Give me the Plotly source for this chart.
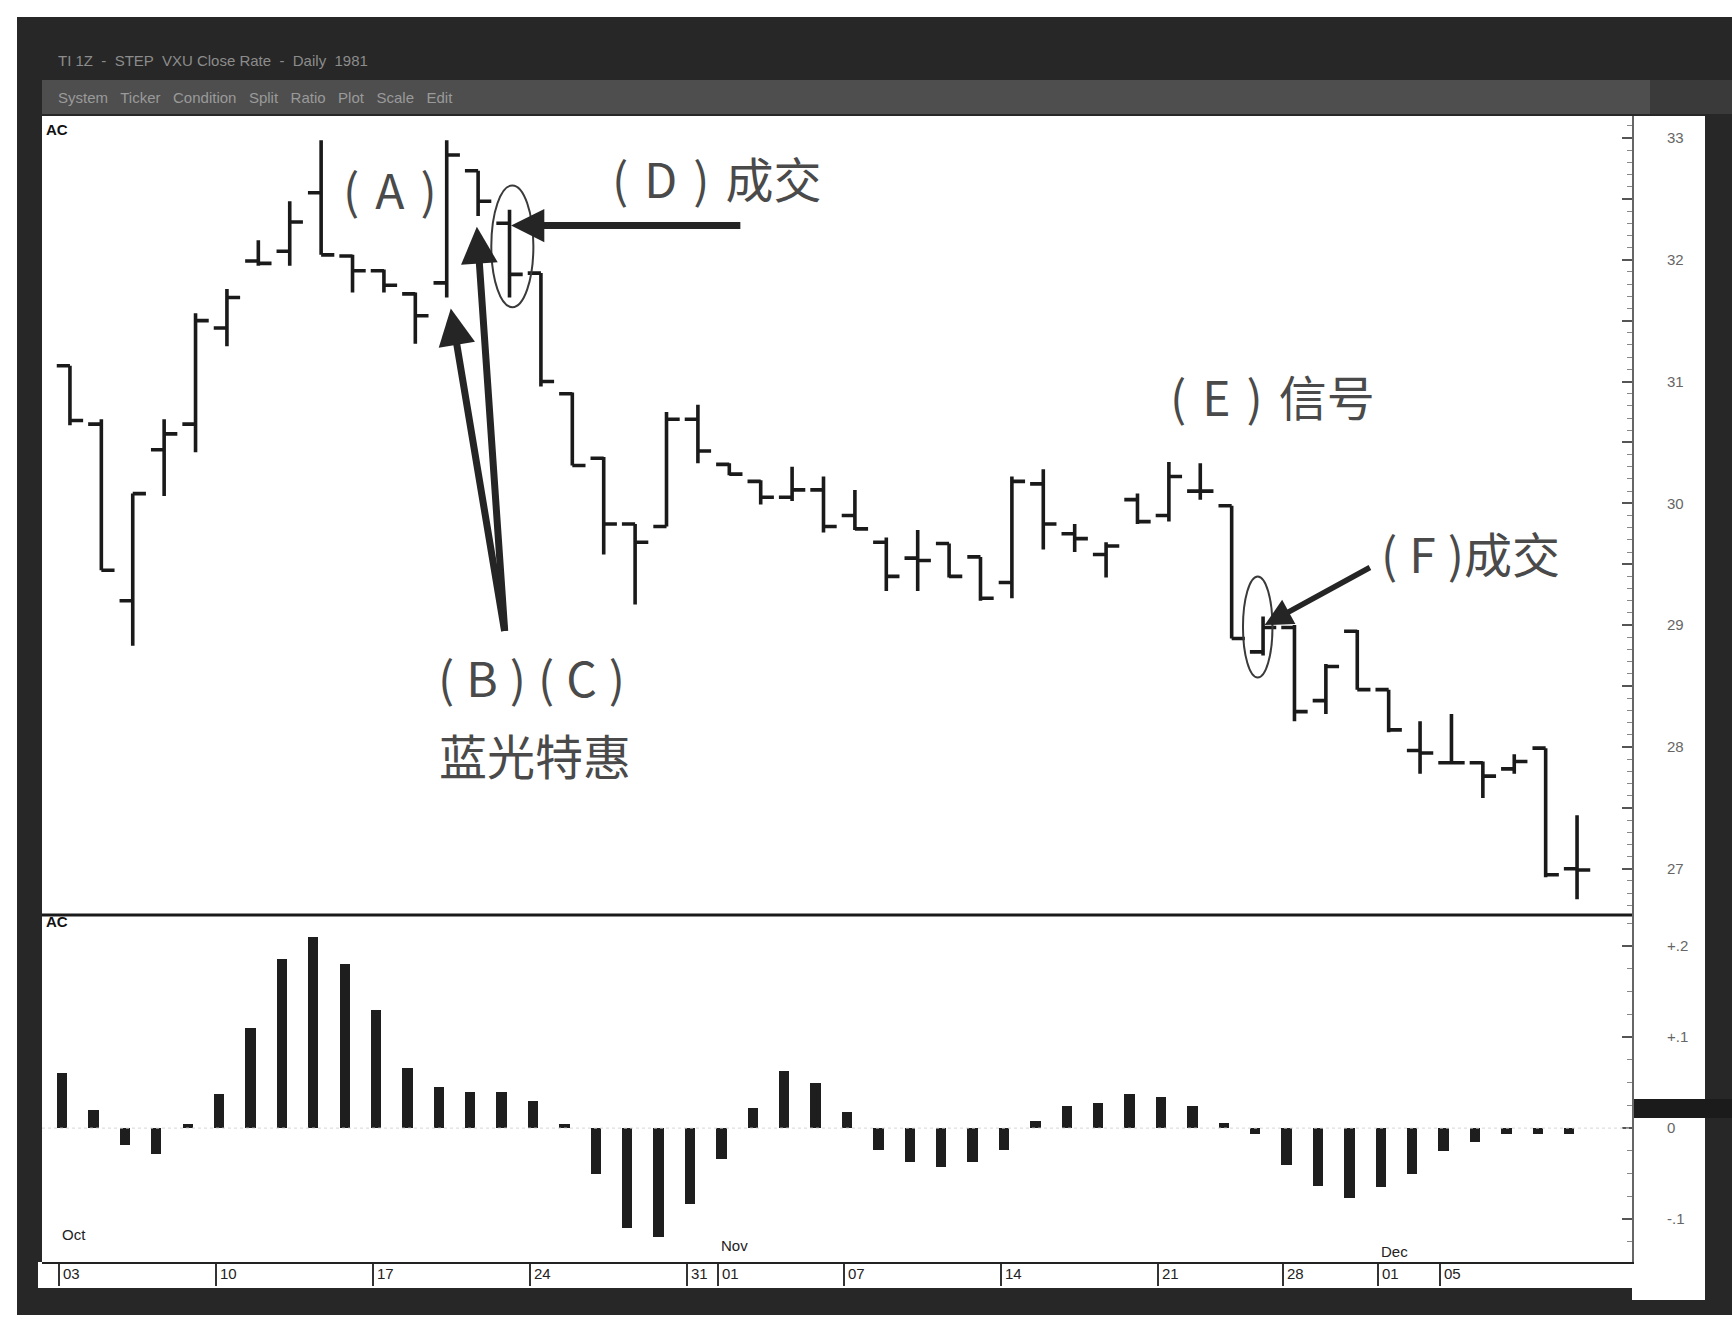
import plotly.graph_objects as go

# ---------------- data ----------------
dates = [
    "2005-10-03", "2005-10-04", "2005-10-05", "2005-10-06", "2005-10-07",
    "2005-10-10", "2005-10-11", "2005-10-12", "2005-10-13", "2005-10-14",
    "2005-10-17", "2005-10-18", "2005-10-19", "2005-10-20", "2005-10-21",
    "2005-10-24", "2005-10-25", "2005-10-26", "2005-10-27", "2005-10-28",
    "2005-10-31", "2005-11-01", "2005-11-02", "2005-11-03", "2005-11-04",
    "2005-11-07", "2005-11-08", "2005-11-09", "2005-11-10", "2005-11-11",
    "2005-11-14", "2005-11-15", "2005-11-16", "2005-11-17", "2005-11-18",
    "2005-11-21", "2005-11-22", "2005-11-23", "2005-11-25", "2005-11-28",
    "2005-11-29", "2005-11-30", "2005-12-01", "2005-12-02", "2005-12-05",
    "2005-12-06", "2005-12-07", "2005-12-08", "2005-12-09",
]
open_ = [31.13, 30.65, 29.20, 30.44, 30.65, 31.44, 31.99, 32.07, 32.55, 32.03,
         31.91, 31.72, 31.81, 32.73, 32.30, 31.89, 30.90, 30.37, 29.83, 29.81,
         30.69, 30.32, 30.18, 30.05, 30.11, 29.90, 29.68, 29.55, 29.67, 29.56,
         29.35, 30.16, 29.75, 29.58, 30.03, 29.90, 30.10, 29.98, 28.78, 28.98,
         28.38, 28.95, 28.47, 27.97, 27.87, 27.87, 27.82, 27.99, 27.00]
high = [31.13, 30.69, 30.08, 30.69, 31.56, 31.76, 32.16, 32.48, 32.98, 32.04,
        31.92, 31.73, 32.98, 32.73, 32.41, 31.89, 30.91, 30.38, 29.83, 30.75,
        30.81, 30.33, 30.19, 30.30, 30.22, 30.11, 29.72, 29.78, 29.67, 29.56,
        30.22, 30.28, 29.83, 29.68, 30.08, 30.34, 30.33, 29.98, 29.07, 29.00,
        28.68, 28.96, 28.47, 28.21, 28.27, 27.88, 27.94, 27.99, 27.44]
low = [30.64, 29.45, 28.83, 30.06, 30.42, 31.29, 31.95, 31.95, 32.04, 31.73,
       31.73, 31.31, 31.69, 32.36, 31.69, 30.96, 30.31, 29.58, 29.17, 29.81,
       30.33, 30.23, 29.99, 30.02, 29.76, 29.78, 29.28, 29.28, 29.39, 29.20,
       29.22, 29.62, 29.60, 29.39, 29.83, 29.85, 30.03, 28.89, 28.75, 28.21,
       28.27, 28.47, 28.12, 27.78, 27.86, 27.58, 27.78, 26.93, 26.75]
close = [30.68, 29.45, 30.08, 30.57, 31.50, 31.69, 31.97, 32.31, 32.04, 31.91,
         31.79, 31.54, 32.86, 32.48, 31.88, 31.00, 30.31, 29.83, 29.68, 30.69,
         30.43, 30.24, 30.05, 30.11, 29.81, 29.79, 29.40, 29.53, 29.40, 29.22,
         30.18, 29.83, 29.71, 29.65, 29.85, 30.22, 30.10, 28.89, 28.98, 28.29,
         28.66, 28.47, 28.14, 27.95, 27.87, 27.76, 27.88, 26.95, 26.99]
ac = [0.061, 0.020, -0.018, -0.028, 0.005, 0.038, 0.110, 0.186, 0.210, 0.180,
      0.130, 0.066, 0.045, 0.040, 0.040, 0.030, 0.005, -0.050, -0.110, -0.120,
      -0.083, -0.034, 0.022, 0.063, 0.049, 0.018, -0.024, -0.037, -0.043, -0.037,
      -0.024, 0.008, 0.024, 0.028, 0.037, 0.034, 0.024, 0.006, -0.007, -0.040,
      -0.063, -0.077, -0.065, -0.050, -0.025, -0.015, -0.007, -0.007, -0.007]

tick_dates = ["2005-10-03", "2005-10-10", "2005-10-17", "2005-10-24", "2005-10-31",
              "2005-11-01", "2005-11-07", "2005-11-14", "2005-11-21", "2005-11-28",
              "2005-12-01", "2005-12-05"]
tick_text = ["03", "10", "17", "24", "31", "01", "07", "14", "21", "28", "01", "05"]
month_dates = ["2005-10-03", "2005-11-01", "2005-12-01"]
month_text = ["Oct", "Nov", "Dec"]

price_ticks = [27, 28, 29, 30, 31, 32, 33]
ac_ticks = [-0.1, 0.0, 0.1, 0.2]
ac_tick_text = ["-.1", "0", "+.1", "+.2"]

# ---------------- geometry helpers ----------------
W, H = 1732, 1329
L, R, T, B = 42, 100, 116, 67
PW, PH = W - L - R, H - T - B


def px(fx):
    return (fx - L) / PW


def py(fy):
    return (H - B - fy) / PH


split = py(915)
idx = list(range(len(dates)))
pos = {d: i for i, d in enumerate(dates)}
tick_off = -0.35
ac_off = -0.25

fig = go.Figure()

fig.add_trace(go.Ohlc(
    x=idx, open=open_, high=high, low=low, close=close,
    increasing_line_color="#1a1a1a", decreasing_line_color="#1a1a1a",
    line_width=3.6, tickwidth=0.42, xaxis="x", yaxis="y", showlegend=False,
))
fig.add_trace(go.Bar(
    x=[i + ac_off for i in idx], y=ac, width=0.33,
    marker_color="#1e1e1e", marker_line_width=0,
    xaxis="x2", yaxis="y2", showlegend=False,
))

xr = [-0.89, 49.75]
half_ticks = [v / 2 for v in range(54, 67)]
fig.update_layout(
    width=W, height=H,
    margin=dict(l=L, r=R, t=T, b=B),
    paper_bgcolor="white", plot_bgcolor="white",
    bargap=0,
    xaxis=dict(domain=[0, 1], range=xr, anchor="y", showticklabels=False,
               showgrid=False, zeroline=False, rangeslider=dict(visible=False),
               ticks=""),
    xaxis2=dict(domain=[0, 1], range=xr, anchor="y2", matches="x",
                showgrid=False, zeroline=False, showline=True,
                linecolor="#222", linewidth=2,
                tickvals=[pos[d] + tick_off for d in tick_dates],
                showticklabels=False, ticks="outside", ticklen=22,
                tickwidth=2, tickcolor="#333"),
    yaxis=dict(domain=[split, 1], range=[26.62, 33.18], side="right",
               anchor="x", showgrid=False, zeroline=False,
               showline=True, linecolor="#666", linewidth=2,
               tickvals=half_ticks,
               ticktext=[str(int(v)) if v in price_ticks else "" for v in half_ticks],
               ticks="inside", ticklen=10, tickwidth=2, tickcolor="#555",
               minor=dict(dtick=0.1, ticks="inside", ticklen=5,
                          tickcolor="#888", tickwidth=1),
               ticklabelstandoff=30,
               tickfont=dict(family="Liberation Sans", size=15, color="#666")),
    yaxis2=dict(domain=[0, split], range=[-0.147, 0.234], side="right",
                anchor="x2", showgrid=False, zeroline=False,
                showline=True, linecolor="#666", linewidth=2,
                tickvals=ac_ticks, ticktext=ac_tick_text,
                ticks="inside", ticklen=10, tickwidth=2, tickcolor="#555",
                minor=dict(dtick=0.025, ticks="inside", ticklen=5,
                           tickcolor="#888", tickwidth=1),
                ticklabelstandoff=30,
                tickfont=dict(family="Liberation Sans", size=15, color="#666")),
)

# ---------------- frame (scanned screen look) ----------------
shapes = []


def rect(x0, y0, x1, y1, color):
    shapes.append(dict(type="rect", xref="paper", yref="paper",
                       x0=px(x0), x1=px(x1), y0=py(y1), y1=py(y0),
                       fillcolor=color, line_width=0, layer="below"))


rect(17, 17, 1732, 1315, "#272727")
rect(42, 80, 1650, 114, "#4e4e4e")
rect(1650, 80, 1732, 114, "#3a3a3a")
rect(42, 116, 1632, 1262, "white")
rect(1632, 116, 1705, 1300, "white")
rect(38, 1262, 1705, 1288, "white")
rect(1632, 1099, 1732, 1118, "#1b1b1b")
shapes.append(dict(type="line", xref="paper", yref="paper",
                   x0=0, x1=1, y0=split, y1=split,
                   line=dict(color="#1a1a1a", width=3)))
shapes.append(dict(type="line", xref="paper", yref="y2",
                   x0=0, x1=1, y0=0, y1=0,
                   line=dict(color="#d6d6d6", width=1, dash="dot")))
# ellipses around the fills
shapes.append(dict(type="circle", xref="x", yref="y",
                   x0=13.42, x1=14.76, y0=31.61, y1=32.61,
                   line=dict(color="#3a3a3a", width=2)))
shapes.append(dict(type="circle", xref="x", yref="y",
                   x0=37.36, x1=38.30, y0=28.57, y1=29.40,
                   line=dict(color="#3a3a3a", width=2)))
fig.update_layout(shapes=shapes)

# ---------------- text ----------------
ann = []
cjk = "Noto Sans CJK SC"
label_font = dict(family=cjk, size=48, color="#4a4a4a")
S3 = "\u2004"   # 1/3 em space
S4 = "\u2005"   # 1/4 em space


def note(text, x, y):
    ann.append(dict(text=text, x=x, y=y, xref="x", yref="y", showarrow=False,
                    font=label_font, xanchor="center", yanchor="middle"))


note(f"({S3}A{S3})", 10.2, 32.59)
note(f"({S3}D{S3}){S3}成交", 20.6, 32.68)
note(f"({S4}B{S4}){S4}({S4}C{S4})", 14.7, 28.58)
note("蓝光特惠", 14.8, 27.94)
note(f"({S3}E{S3}){S3}信号", 38.3, 30.89)
note(f"({S4}F{S4})成交", 44.6, 29.60)


def arrow(hx, hy, tx, ty, w, size=1.0):
    ann.append(dict(text="", x=hx, y=hy, ax=tx, ay=ty, xref="x", yref="y",
                    axref="x", ayref="y", showarrow=True, arrowhead=2,
                    arrowsize=size, arrowwidth=w, arrowcolor="#252525",
                    standoff=0, startstandoff=0))


arrow(14.05, 32.28, 21.4, 32.28, 7, 0.95)     # D
arrow(12.13, 31.60, 13.85, 28.94, 7, 1.05)    # B
arrow(12.96, 32.27, 13.85, 28.94, 7, 1.05)    # C
arrow(38.05, 29.00, 41.45, 29.48, 5.5, 1.0)   # F

for d, t in zip(tick_dates, tick_text):
    ann.append(dict(text=t, x=pos[d] + tick_off, y=py(1274), xref="x2",
                    yref="paper", showarrow=False, xanchor="left",
                    yanchor="middle", xshift=2,
                    font=dict(family="Liberation Sans", size=15, color="#222")))
for d, t, fy in zip(month_dates, month_text, [1234, 1245, 1251]):
    ann.append(dict(text=t, x=pos[d] + tick_off, y=py(fy), xref="x2",
                    yref="paper", showarrow=False, xanchor="left",
                    yanchor="middle", xshift=1,
                    font=dict(family="Liberation Sans", size=15, color="#222")))

for fy in (129, 922):
    ann.append(dict(text="<b>AC</b>", x=px(44), y=py(fy), xref="paper",
                    yref="paper", showarrow=False, xanchor="left",
                    yanchor="middle",
                    font=dict(family="Liberation Sans", size=15, color="#111")))

ann.append(dict(text="TI 1Z  -  STEP  VXU Close Rate  -  Daily  1981",
                x=px(56), y=py(60), xref="paper", yref="paper",
                showarrow=False, xanchor="left", yanchor="middle",
                font=dict(family="Liberation Sans", size=15, color="#8c8c8c")))
ann.append(dict(text="System   Ticker   Condition   Split   Ratio   Plot   Scale   Edit",
                x=px(56), y=py(97), xref="paper", yref="paper",
                showarrow=False, xanchor="left", yanchor="middle",
                font=dict(family="Liberation Sans", size=15, color="#9a9a9a")))

fig.update_layout(annotations=ann)

fig.write_html("out.html", config={"displayModeBar": False},
               post_script="document.body.style.margin='0';")
